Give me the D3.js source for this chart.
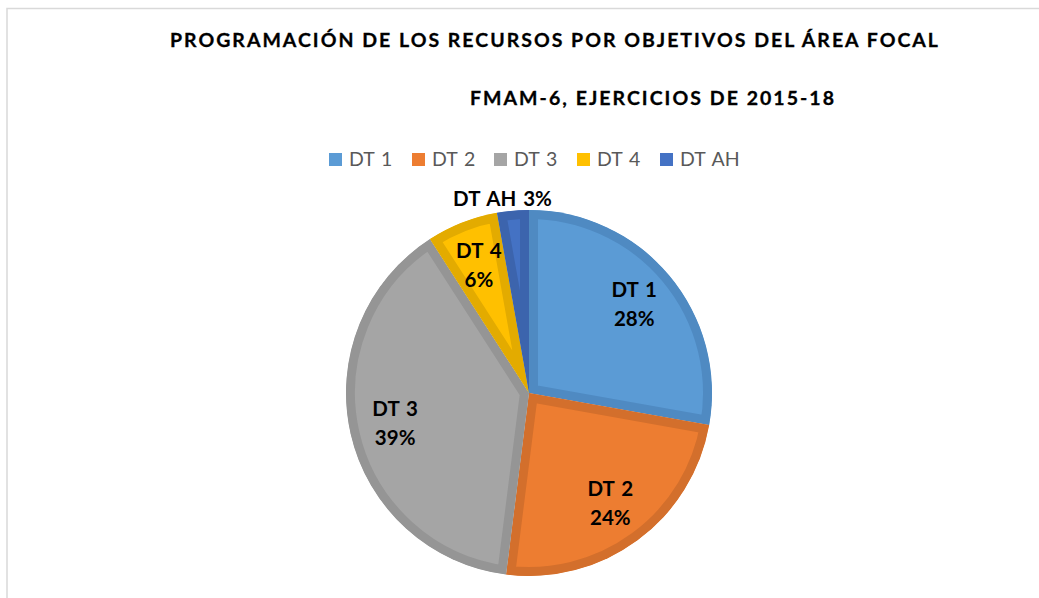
<!DOCTYPE html>
<html><head><meta charset="utf-8">
<script src="https://cdn.jsdelivr.net/npm/d3@7"></script>
<style>body{margin:0;background:#fff}svg{display:block}</style>
</head><body>
<svg id="c" width="1039" height="598"></svg>
<script>
const categories = ["DT 1", "DT 2", "DT 3", "DT 4", "DT AH"];
const values = [27.8, 24.2, 38.9, 6.3, 2.8];
const fills = ["#5b9bd5", "#ed7d31", "#a5a5a5", "#ffc000", "#4472c4"];
const borders = ["#4f8ac2", "#d36f2c", "#959595", "#e3ab00", "#3c64ad"];
const titleLines = ["PROGRAMACIÓN DE LOS RECURSOS POR OBJETIVOS DEL ÁREA FOCAL", "FMAM-6, EJERCICIOS DE 2015-18"];

const svg = d3.select("#c");
const font = "Lato, 'Open Sans', sans-serif";

// chart border (left + top)
svg.append("path").attr("d", "M7,598 L7,8.5 L1039,8.5").attr("fill", "none")
  .attr("stroke", "#d9d9d9").attr("stroke-width", 1.5);

// titles
svg.append("text").attr("x", 170).attr("y", 46.5).attr("textLength", 768).attr("lengthAdjust", "spacing")
  .attr("font-family", font).attr("font-weight", 700).attr("font-size", 19.5).attr("fill", "#000")
  .attr("stroke", "#000").attr("stroke-width", 0.3)
  .text(titleLines[0]);
svg.append("text").attr("x", 470).attr("y", 104.5).attr("textLength", 364).attr("lengthAdjust", "spacing")
  .attr("font-family", font).attr("font-weight", 700).attr("font-size", 19.5).attr("fill", "#000")
  .attr("stroke", "#000").attr("stroke-width", 0.3)
  .text(titleLines[1]);

// legend
const legX = [329, 412, 494, 577, 660];
const leg = svg.append("g").selectAll("g").data(categories).join("g")
  .attr("transform", (d, i) => `translate(${legX[i]},153)`);
leg.append("rect").attr("width", 13).attr("height", 13).attr("fill", (d, i) => fills[i]);
leg.append("text").attr("x", 20).attr("y", 13).attr("font-family", font).attr("font-size", 19.5)
  .attr("word-spacing", 2).attr("fill", "#595959").text(d => d);

// pie
const cx = 529, cy = 393, R = 183, bw = 9;
const pie = d3.pie().sort(null).value(d => d);
const arcs = pie(values);
const arc = d3.arc().innerRadius(0).outerRadius(R);
const g = svg.append("g").attr("transform", `translate(${cx},${cy})`);
const defs = svg.append("defs");
arcs.forEach((a, i) => {
  defs.append("clipPath").attr("id", "cl" + i).append("path").attr("d", arc(a));
});
g.selectAll("path.s").data(arcs).join("path").attr("class", "s")
  .attr("d", arc).attr("fill", (d, i) => fills[i])
  .attr("stroke", (d, i) => borders[i]).attr("stroke-width", bw * 2)
  .attr("stroke-linejoin", "miter")
  .attr("clip-path", (d, i) => `url(#cl${i})`);

// labels
const total = d3.sum(values);
const lblArc = d3.arc().innerRadius(R * 0.75).outerRadius(R * 0.75);
const lfs = 20.5;
arcs.forEach((a, i) => {
  const pct = Math.round(a.value / total * 100) + "%";
  if (a.endAngle - a.startAngle < 0.25) {
    const ang = (a.startAngle + a.endAngle) / 2;
    const rr = R + 5;
    g.append("text").attr("x", Math.sin(ang) * rr - 10).attr("y", -Math.cos(ang) * rr)
      .attr("text-anchor", "middle").attr("font-family", font).attr("font-weight", 700)
      .attr("word-spacing", 2).attr("font-size", lfs).attr("fill", "#000").text(categories[i] + " " + pct);
  } else {
    const [x, y] = lblArc.centroid(a);
    const t = g.append("text").attr("x", x).attr("y", y).attr("text-anchor", "middle")
      .attr("font-family", font).attr("font-weight", 700).attr("font-size", lfs)
      .attr("word-spacing", 2).attr("fill", "#000");
    t.append("tspan").attr("x", x).attr("dy", -7.5).text(categories[i]);
    t.append("tspan").attr("x", x).attr("dy", 29).text(pct);
  }
});
</script>
</body></html>
